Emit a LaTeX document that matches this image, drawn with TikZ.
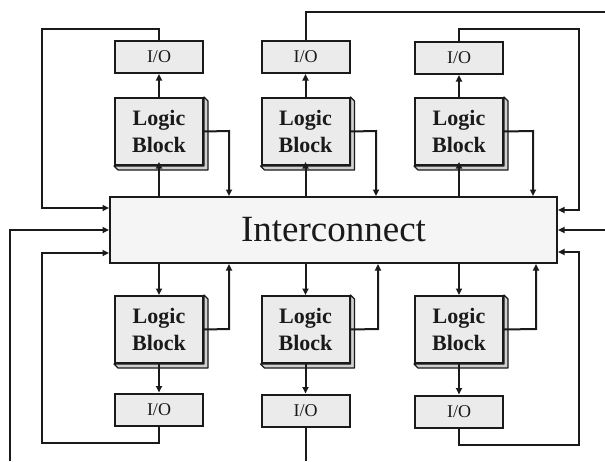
\documentclass[tikz,border=0pt]{standalone}
\usepackage{fontspec}
\setmainfont{Liberation Serif}
\usetikzlibrary{arrows.meta}
\definecolor{boxfill}{HTML}{EBEBEB}
\definecolor{icfill}{HTML}{F5F5F5}
\definecolor{shadefill}{HTML}{D0D0D0}
\definecolor{ink}{HTML}{1A1A1A}
\tikzset{
  iobox/.style={draw=ink, line width=2pt, fill=boxfill, minimum width=88pt, minimum height=32pt, inner sep=0pt, font=\fontsize{18}{20}\selectfont, text=ink},
  lbbox/.style={draw=ink, line width=2pt, fill=boxfill, minimum width=88pt, minimum height=67pt, inner sep=0pt, align=center, font=\bfseries\fontsize{22}{27}\selectfont, text=ink},
  icbox/.style={draw=ink, line width=2pt, fill=icfill, minimum width=447pt, minimum height=66pt, inner sep=0pt, font=\fontsize{37}{40}\selectfont, text=ink},
  conn/.style={draw=ink, line width=2pt},
  arr/.style={conn, -{Triangle[length=6.5pt,width=6pt]}},
  shade/.style={draw=ink, line width=1.2pt, fill=shadefill, line join=round}
}
\begin{document}
\begin{tikzpicture}[x=1pt,y=-1pt]
\useasboundingbox (0,0) rectangle (605,461);
\fill[white] (0,0) rectangle (605,461);

% interconnect
\node[icbox] (ic) at (333.5,230) {Interconnect};

% logic blocks with their depth faces
\foreach \n/\x in {1/159,2/305.5,3/459}{
  \node[lbbox] (tlb\n) at (\x,131.5) {Logic\\Block};
  \draw[shade] (tlb\n.north east) -- ++(4,4) -- ([shift={(4,4)}]tlb\n.south east) -- ([shift={(4,4)}]tlb\n.south west) -- (tlb\n.south west) -- (tlb\n.south east) -- cycle;
  \node[lbbox] (blb\n) at (\x,329.5) {Logic\\Block};
  \draw[shade] (blb\n.north east) -- ++(4,4) -- ([shift={(4,4)}]blb\n.south east) -- ([shift={(4,4)}]blb\n.south west) -- (blb\n.south west) -- (blb\n.south east) -- cycle;
}
\node[iobox] (tio1) at (159,57) {I/O};
\node[iobox] (tio2) at (305.5,57) {I/O};
\node[iobox] (tio3) at (459,58) {I/O};
\node[iobox] (bio1) at (159,409.5) {I/O};
\node[iobox] (bio2) at (305.5,410.5) {I/O};
\node[iobox] (bio3) at (459,411.5) {I/O};

% turning points
\coordinate (r1) at (229,131);
\coordinate (r2) at (376,131);
\coordinate (r3) at (533,131);
\coordinate (s1) at (229,329);
\coordinate (s2) at (378,329);
\coordinate (s3) at (536,329);
\coordinate (a1) at (42,29);
\coordinate (a2) at (42,208);
\coordinate (b1) at (42,443);
\coordinate (b2) at (42,253);
\coordinate (c1) at (579,29);
\coordinate (c2) at (579,210);
\coordinate (d1) at (579,445);
\coordinate (d2) at (579,252);
\coordinate (e1) at (605,12);
\coordinate (e2) at (605,230);
\coordinate (e3) at (10,461);
\coordinate (e4) at (305.5,461);

\foreach \n in {1,2,3}{
  \draw[arr] (tlb\n.north) -- (tio\n.south);
  \draw[arr, shorten >=-4pt] (ic.north -| tlb\n) -- (tlb\n.south);
  \draw[arr] (tlb\n.east) -- (r\n) -- (r\n |- ic.north);
  \draw[arr] (ic.south -| blb\n) -- (blb\n.north);
  \draw[arr] (blb\n.south) -- (bio\n.north);
  \draw[arr] (blb\n.east) -- (s\n) -- (s\n |- ic.south);
}

% outer loops
\draw[arr] (tio1.north) |- (a1) -- (a2) -- (a2 -| ic.west);
\draw[arr] (bio1.south) |- (b1) -- (b2) -- (b2 -| ic.west);
\draw[arr] (tio3.north) |- (c1) -- (c2) -- (c2 -| ic.east);
\draw[arr] (bio3.south) |- (d1) -- (d2) -- (d2 -| ic.east);
\draw[conn] (tio2.north) |- (e1);
\draw[arr] (e2) -- (ic.east);
\draw[arr] (e3) |- (ic.west);
\draw[conn] (bio2.south) -- (e4);
\end{tikzpicture}
\end{document}
